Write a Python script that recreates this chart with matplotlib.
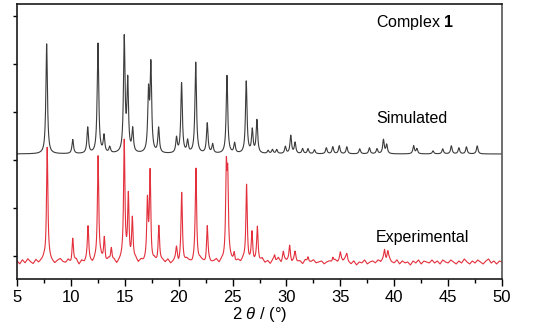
import numpy as np
import matplotlib
matplotlib.use('Agg')
import matplotlib.pyplot as plt

plt.rcParams['font.family'] = ['Liberation Sans', 'DejaVu Sans']
plt.rcParams['mathtext.fontset'] = 'custom'
plt.rcParams['mathtext.rm'] = 'Liberation Sans'
plt.rcParams['mathtext.it'] = 'Liberation Sans:italic'
plt.rcParams['mathtext.bf'] = 'Liberation Sans:bold'


# PEAK LISTS (2theta in degrees, height in plot units) #

sim_pos = [7.75, 10.17, 11.56, 12.51, 13.07, 13.6, 14.95, 15.27, 15.73, 17.2,
           17.42, 18.14, 19.8, 20.27, 20.83, 21.58, 22.65, 23.15, 24.48, 25.19,
           26.27, 26.83, 27.26, 28.3, 28.7, 29.1, 29.9, 30.4, 30.8, 31.5,
           32.0, 32.6, 33.7, 34.3, 34.9, 35.6, 36.8, 37.7, 38.4, 39.0,
           39.3, 41.8, 42.1, 43.6, 44.5, 45.3, 46.0, 46.7, 47.7]
sim_height = [110, 14, 26, 110, 17, 6, 114, 70, 23, 58,
              86, 25, 15, 70, 12, 91, 30, 9, 78, 10,
              72, 23, 33, 3, 4, 4, 7, 18, 11, 5,
              5, 4, 6, 7, 8, 7, 5, 6, 5, 14,
              9, 8, 5, 3, 5, 8, 6, 7, 8]

exp_pos = [7.8, 10.17, 11.59, 12.52, 13.1, 13.75, 14.95, 15.33, 15.7, 17.1,
           17.35, 18.16, 19.8, 20.28, 21.6, 22.65, 24.42, 24.55, 25.15, 26.3,
           26.8, 27.3, 28.9, 29.7, 30.3, 30.8, 32.0, 34.3, 35.0, 35.6,
           39.1, 39.4]
exp_height = [115, 24, 34, 106, 24, 14, 120, 64, 42, 58,
              88, 36, 12, 68, 93, 36, 86, 76, 9, 77,
              28, 33, 6, 8, 15, 8, 6, 5, 7, 6,
              10, 8]

# experimental background wiggle, one value every 0.25 deg from 5 to 50
exp_noise = [1, -2, 2, -1, 3, 0, -2, 2, -1, 1, 3, -1, 2, 0, -2, 1, 3, 0, -1, 2,
             -2, 0, 2, -3, 1, -1, 2, 0, -2, 1, -1, 3, 0, -2, 2, -1, 1, -3, 0, 2,
             -1, 1, -2, 0, 2, -2, 1, -1, 0, 2, -3, 1, -2, 0, 1, -1, 2, -2, 0, 3,
             -3, 1, -1, 2, 0, -2, 1, -1, 2, 0, -3, 1, -1, 0, 2, -2, 1, 0, -1, 2,
             0, -2, 1, -1, 2, 0, -2, 1, -1, 2, 0, 3, -1, 1, -2, 2, 0, 4, -1, 3,
             1, 2, -1, 3, 0, 1, -2, 2, -1, 0, 2, -1, 0, 1, -2, 0, 1, -1, 2, 0,
             3, 1, 4, 0, -2, 1, -3, 0, -1, 2, -2, 0, 1, -1, 2, 0, 3, 1, 4, 0,
             -1, 2, -2, 1, -1, 0, -3, 1, -1, 2, -2, 1, 0, -1, 2, -1, 1, -2, 2, 0,
             -1, 2, 0, -2, 1, -1, 3, 0, -2, 1, -1, 2, 0, -2, 1, 3, -1, 1, -2, 1,
             0]

sim_offset = 125
exp_offset = 17


def profile(x, pos, height, hwhm):
    y = np.zeros_like(x)
    for p, h in zip(pos, height):
        y += h / (1 + ((x - p) / hwhm) ** 2)
    return y


tt = np.arange(5, 50.0001, 0.01)
noise_x = np.arange(len(exp_noise)) * 0.25 + 5
sim_y = sim_offset + profile(tt, sim_pos, sim_height, 0.085)
exp_y = exp_offset + profile(tt, exp_pos, exp_height, 0.075) + np.interp(tt, noise_x, exp_noise)


# PLOT #

fig = plt.figure(figsize=(5.42, 3.24), dpi=100)
ax = fig.add_axes([0.0314, 0.1389, 0.8948, 0.8488])

ax.plot(tt, sim_y, color='#3c3c3c', lw=0.8)
ax.plot(tt, exp_y, color='#e3303c', lw=0.8)

ax.text(38.3, 256, r'Complex $\mathbf{1}$', fontsize=11.5, va='center', ha='left')
ax.text(38.3, 160, 'Simulated', fontsize=11.5, va='center', ha='left')
ax.text(38.3, 41, 'Experimental', fontsize=11.5, va='center', ha='left')

ax.set_xlim(5, 50)
ax.set_ylim(0, 275)
ax.set_xticks(np.arange(5, 51, 5))
ax.set_xticks(np.arange(7.5, 50, 5), minor=True)
ax.set_yticks([23, 71, 119, 167, 215, 263])
ax.set_yticklabels([])
ax.tick_params(axis='x', which='major', length=5, width=1, pad=3, labelsize=12, direction='out')
ax.tick_params(axis='x', which='minor', length=3, width=1, direction='out')
ax.tick_params(axis='y', length=3, width=1, direction='out')
ax.set_xlabel(r'2 $\theta$ / (°)', fontsize=12, labelpad=0)

for s in ['left', 'bottom', 'top']:
    ax.spines[s].set_linewidth(1.2)
    ax.spines[s].set_color('#1a1a1a')
ax.spines['right'].set_linewidth(1.2)
ax.spines['right'].set_color('#555555')

fig.savefig('out.png', dpi=100)
